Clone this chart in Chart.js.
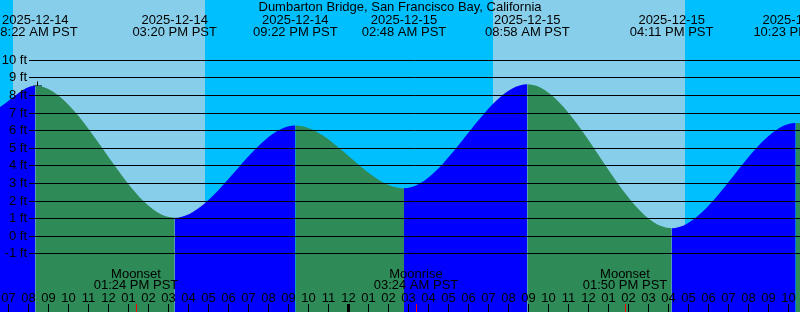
<!DOCTYPE html>
<html>
<head>
<meta charset="utf-8">
<script src="https://cdn.jsdelivr.net/npm/chart.js@4/dist/chart.umd.min.js"></script>
<style>
  html, body { margin: 0; padding: 0; background: #00bfff; }
  #wrap { width: 800px; height: 312px; }
</style>
</head>
<body>
<div id="wrap"><canvas id="tideChart" width="800" height="312"></canvas></div>
<script>
// hours counted from 2025-12-14 00:00 PST
const viewStart = 6.6;
const viewEnd = 46.6;

// tide curve: edges of the view plus each high / low
const tideHours = [6.6, 8.367, 15.333, 21.367, 26.8, 32.967, 40.183, 46.383, 46.6];
const tideFeet = [7.35, 8.55, 1.05, 6.3, 2.73, 8.64, 0.46, 6.44, 6.43];

// labels printed at the top for each high / low
const extremeHours = [8.367, 15.333, 21.367, 26.8, 32.967, 40.183, 46.383];
const extremeDates = ['2025-12-14', '2025-12-14', '2025-12-14', '2025-12-15', '2025-12-15', '2025-12-15', '2025-12-15'];
const extremeTimes = ['08:22 AM PST', '03:20 PM PST', '09:22 PM PST', '02:48 AM PST', '08:58 AM PST', '04:11 PM PST', '10:23 PM PST'];

// daylight (sunrise, sunset)
const daylight = [[7.25, 16.85], [31.25, 40.85]];

// moon events
const moonHours = [13.4, 27.4, 37.833];
const moonNames = ['Moonset', 'Moonrise', 'Moonset'];
const moonTimes = ['01:24 PM PST', '03:24 AM PST', '01:50 PM PST'];

// y axis
const feetTicks = [10, 9, 8, 7, 6, 5, 4, 3, 2, 1, 0, -1];

// hour ticks along the bottom
const hourTicks = [7, 8, 9, 10, 11, 12, 13, 14, 15, 16, 17, 18, 19, 20, 21, 22, 23, 24, 25, 26,
  27, 28, 29, 30, 31, 32, 33, 34, 35, 36, 37, 38, 39, 40, 41, 42, 43, 44, 45, 46];
const hourLabels = ['07', '08', '09', '10', '11', '12', '01', '02', '03', '04', '05', '06', '07', '08', '09', '10', '11', '12', '01', '02',
  '03', '04', '05', '06', '07', '08', '09', '10', '11', '12', '01', '02', '03', '04', '05', '06', '07', '08', '09', '10'];
const midnightHours = [24];

// "now" cross marker
const markerPoint = [{ x: 8.475, y: 8.54 }];

const title = 'Dumbarton Bridge, San Francisco Bay, California';

const FONT = '13px "Liberation Sans", Arial, sans-serif';
const RISING = '#0000ff';
const FALLING = '#2e8b57';

const tidePlugin = {
    id: 'tideDecor',
    beforeDatasetsDraw(chart) {
        const { ctx, chartArea, scales: { x } } = chart;
        ctx.save();
        ctx.fillStyle = '#00bfff';
        ctx.fillRect(chartArea.left, chartArea.top, chartArea.width, chartArea.height);
        ctx.fillStyle = '#87ceeb';
        daylight.forEach(([rise, set]) => {
            const x0 = Math.round(x.getPixelForValue(rise));
            const x1 = Math.round(x.getPixelForValue(set));
            ctx.fillRect(x0, chartArea.top, x1 - x0, chartArea.height);
        });
        ctx.restore();
    },
    afterDatasetsDraw(chart) {
        const { ctx, chartArea, scales: { x, y } } = chart;
        ctx.save();
        ctx.font = FONT;
        ctx.fillStyle = '#000';
        ctx.strokeStyle = '#000';
        ctx.lineWidth = 1;

        // grid lines + ft labels
        ctx.textAlign = 'right';
        ctx.textBaseline = 'middle';
        feetTicks.forEach(f => {
            const py = Math.floor(y.getPixelForValue(f)) + 0.5;
            ctx.beginPath();
            ctx.moveTo(29, py);
            ctx.lineTo(chartArea.right, py);
            ctx.stroke();
            ctx.fillText(f + ' ft', 27, py);
        });

        // hour ticks
        ctx.textAlign = 'center';
        ctx.textBaseline = 'alphabetic';
        hourTicks.forEach((h, i) => {
            const px = Math.round(x.getPixelForValue(h));
            ctx.fillRect(px, 304, 1, 8);
            ctx.fillText(hourLabels[i], px + 0.5, 302);
        });
        midnightHours.forEach(h => {
            const px = Math.round(x.getPixelForValue(h));
            ctx.fillRect(px - 1, 304, 3, 8);
        });

        // moon events
        moonHours.forEach((h, i) => {
            const px = Math.round(x.getPixelForValue(h));
            ctx.fillStyle = '#ff0000';
            ctx.fillRect(px, 304, 1, 8);
            ctx.fillStyle = '#000';
            ctx.fillText(moonNames[i], px, 278);
            ctx.fillText(moonTimes[i], px, 289);
        });

        // high / low labels
        extremeHours.forEach((h, i) => {
            const px = x.getPixelForValue(h);
            ctx.fillText(extremeDates[i], px, 24);
            ctx.fillText(extremeTimes[i], px, 36);
        });

        ctx.fillText(title, 400, 11);
        ctx.restore();
    }
};

const chart = new Chart(document.getElementById('tideChart'), {
    type: 'line',
    data: {
        datasets: [{
            label: 'Tide',
            data: tideHours.map((h, i) => ({ x: h, y: tideFeet[i] })),
            fill: 'start',
            borderWidth: 0,
            pointRadius: 0,
            cubicInterpolationMode: 'monotone',
            backgroundColor: RISING,
            segment: {
                backgroundColor: c => c.p1.parsed.y > c.p0.parsed.y ? RISING : FALLING
            }
        }, {
            label: 'Now',
            type: 'scatter',
            data: markerPoint,
            pointStyle: 'cross',
            pointRadius: 4.5,
            pointHoverRadius: 4.5,
            borderColor: '#000',
            borderWidth: 1,
            backgroundColor: '#000'
        }]
    },
    options: {
        responsive: false,
        animation: false,
        layout: { padding: 0, autoPadding: false },
        scales: {
            x: { type: 'linear', min: viewStart, max: viewEnd, display: false },
            y: { type: 'linear', min: -4.301, max: 13.426, display: false }
        },
        plugins: {
            legend: { display: false },
            tooltip: { enabled: false }
        }
    },
    plugins: [tidePlugin]
});
</script>
</body>
</html>
